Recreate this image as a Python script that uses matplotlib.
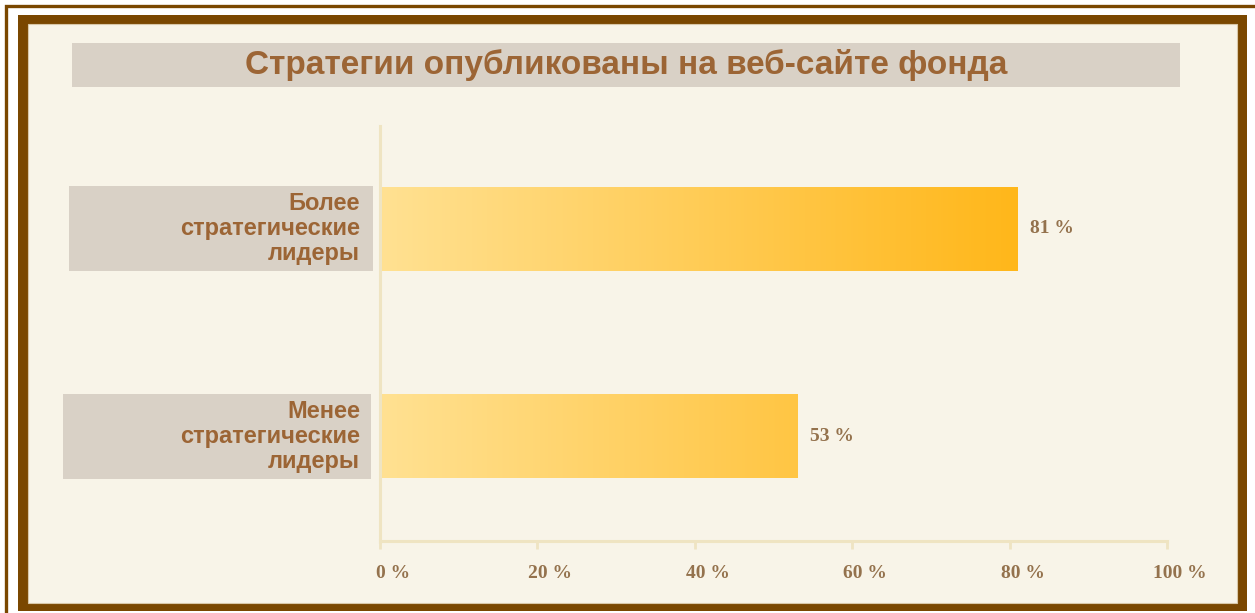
import numpy as np
import matplotlib
matplotlib.use("Agg")
import matplotlib.pyplot as plt
from matplotlib.patches import Rectangle
from matplotlib.transforms import blended_transform_factory, ScaledTranslation

# data
categories = ["Менее\nстратегические\nлидеры", "Более\nстратегические\nлидеры"]
values = [53, 81]
ticks = [0, 20, 40, 60, 80, 100]
tick_labels = ["0 %", "20 %", "40 %", "60 %", "80 %", "100 %"]
title = "Стратегии опубликованы на веб-сайте фонда"

W, H = 1255, 613
BROWN = "#7A4700"
CREAM = "#F8F4E8"
GREY = "#D9D1C6"
TEXT = "#9C6535"
NUM = "#94724D"
AXIS = "#EFE4C2"


def fx(px):
    return px / W


def fy(py):
    # pixel from top -> figure fraction from bottom
    return 1 - py / H


fig = plt.figure(figsize=(W / 100, H / 100), dpi=100, facecolor="white")

# frames (behind the axes)
fig.add_artist(Rectangle((fx(5.5), fy(H + 20)), 1.2, fy(5.5) - fy(H + 20),
                         transform=fig.transFigure, fill=False, ec=BROWN, lw=2.4,
                         zorder=-10))
fig.add_artist(Rectangle((fx(18), fy(611)), fx(1247 - 18), (611 - 15) / H,
                         transform=fig.transFigure, fc=BROWN, ec="none", zorder=-9))
fig.add_artist(Rectangle((fx(28), fy(603)), fx(1237 - 28), (603 - 24) / H,
                         transform=fig.transFigure, fc=CREAM, ec="#D8C7A8", lw=0.8,
                         zorder=-8))

# title box
fig.add_artist(Rectangle((fx(72), fy(87)), fx(1180 - 72), 44 / H,
                         transform=fig.transFigure, fc=GREY, ec="none", zorder=-7))
fig.text(fx(626), fy(65), title, ha="center", va="center", fontsize=24,
         fontweight="bold", color=TEXT, family="Liberation Sans")

# main axes: 0..100 spans x 380..1167 px, y from 126 to 541 px
ax = fig.add_axes([fx(380), fy(541), fx(1167 - 380), (541 - 126) / H])
ax.set_facecolor("none")
ax.set_xlim(0, 100)
ax.set_ylim(-0.505, 1.495)

bar_h = 0.405
ypos = np.arange(len(values))
bars = ax.barh(ypos, values, height=bar_h, color="none", edgecolor="none")

grad = np.linspace(0, 1, 256).reshape(1, -1)
cmap = matplotlib.colors.LinearSegmentedColormap.from_list("g", ["#FFE192", "#FFB71A"])
vmax = max(values)
for b in bars:
    im = ax.imshow(grad, cmap=cmap, aspect="auto", extent=(0, vmax, -0.6, 1.6),
                   zorder=2)
    im.set_clip_path(b)

for y, v in zip(ypos, values):
    ax.text(v + 1.6, y, f"{v} %", va="center", ha="left", fontsize=14,
            color=NUM, family="Liberation Serif", fontweight="bold")

# category label boxes
tr = blended_transform_factory(fig.transFigure, ax.transData)
box_x = [(63, 371), (69, 373)]
for y, lab, (x0, x1) in zip(ypos, categories, box_x):
    ax.add_patch(Rectangle((fx(x0), y - bar_h / 2 - 0.003), fx(x1 - x0), bar_h + 0.006,
                           transform=tr, fc=GREY, ec="none", clip_on=False))
    ax.text(fx(360), y, lab, transform=tr, ha="right", va="center", fontsize=17,
            fontweight="bold", color=TEXT, family="Liberation Sans",
            linespacing=1.1, clip_on=False)

for s in ["top", "right"]:
    ax.spines[s].set_visible(False)
for s in ["left", "bottom"]:
    ax.spines[s].set_color(AXIS)
    ax.spines[s].set_linewidth(2.2)
ax.set_yticks([])
ax.set_xticks(ticks)
ax.set_xticklabels(tick_labels, family="Liberation Serif", fontsize=14,
                   color=NUM, fontweight="bold")
ax.tick_params(axis="x", length=6, width=2, color=AXIS, pad=11)
shift = ScaledTranslation(13 / 100, 0, fig.dpi_scale_trans)
for lbl in ax.get_xticklabels():
    lbl.set_transform(lbl.get_transform() + shift)

fig.savefig("out.png", dpi=100, facecolor="white")
